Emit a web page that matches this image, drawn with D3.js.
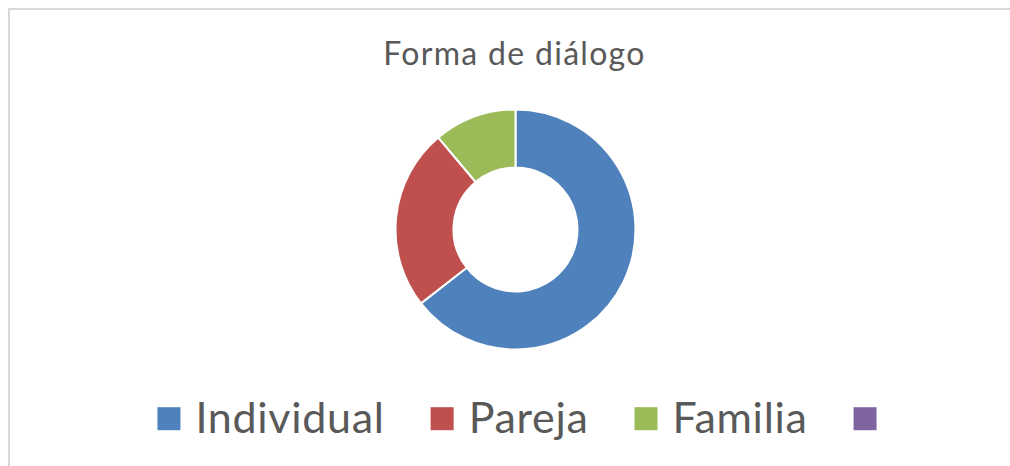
<!DOCTYPE html>
<html>
<head>
<meta charset="utf-8">
<script src="https://cdn.jsdelivr.net/npm/d3@7"></script>
<style>
  html, body { margin: 0; padding: 0; background: #fff; }
  svg { display: block; }
</style>
</head>
<body>
<div id="chart"></div>
<script>
// data
const categories = ["Individual", "Pareja", "Familia", ""];
const values = [29, 11, 5, 0];
const colors = ["#4F81BD", "#C0504D", "#9BBB59", "#8064A2"];
const chartTitle = "Forma de diálogo";

const width = 1010;
const height = 466;
const cx = 515.5, cy = 229.5;
const outerR = 120, innerR = 62;
const textColor = "#595959";
const fontFamily = "Lato, 'Open Sans', sans-serif";

const svg = d3.select("#chart")
    .append("svg")
    .attr("width", width)
    .attr("height", height);

// chart area frame
svg.append("rect")
    .attr("x", 9)
    .attr("y", 9)
    .attr("width", width + 20)
    .attr("height", height + 20)
    .attr("fill", "#fff")
    .attr("stroke", "#d9d9d9")
    .attr("stroke-width", 2);

// Title
svg.append("text")
    .attr("x", 514.5)
    .attr("y", 65)
    .attr("text-anchor", "middle")
    .style("fill", textColor)
    .style("font-family", fontFamily)
    .style("font-size", "32px")
    .style("letter-spacing", "1.3px")
    .text(chartTitle);

const slices = categories.map((c, i) => ({ name: c, value: values[i], color: colors[i] }));

const pie = d3.pie()
    .sort(null)
    .value(d => d.value);

const arc = d3.arc()
    .innerRadius(innerR)
    .outerRadius(outerR);

const donut = svg.append("g")
    .attr("transform", `translate(${cx},${cy})`);

donut.selectAll("path")
    .data(pie(slices).filter(d => d.data.value > 0))
    .enter()
    .append("path")
    .attr("d", arc)
    .attr("fill", d => d.data.color)
    .attr("stroke", "#fff")
    .attr("stroke-width", 2)
    .attr("stroke-linejoin", "round");

// Legend (flows left to right, then centred)
const legend = svg.append("g");
const sw = 23, textGap = 15, itemGap = 46;
let lx = 0;
categories.forEach((c, i) => {
    const item = legend.append("g").attr("transform", `translate(${lx},0)`);
    item.append("rect")
        .attr("x", 0)
        .attr("y", -25.5)
        .attr("width", sw)
        .attr("height", sw)
        .attr("fill", colors[i]);
    if (c !== "") {
        const t = item.append("text")
            .attr("x", sw + textGap)
            .attr("y", 0)
            .style("fill", textColor)
            .style("font-family", fontFamily)
            .style("font-size", "43px")
            .style("letter-spacing", "0.7px")
            .text(c);
        const tw = t.node().getComputedTextLength();
        lx += sw + textGap + tw + itemGap;
    } else {
        lx += sw;
    }
});
legend.attr("transform", `translate(${517 - lx / 2},432.7)`);
</script>
</body>
</html>
